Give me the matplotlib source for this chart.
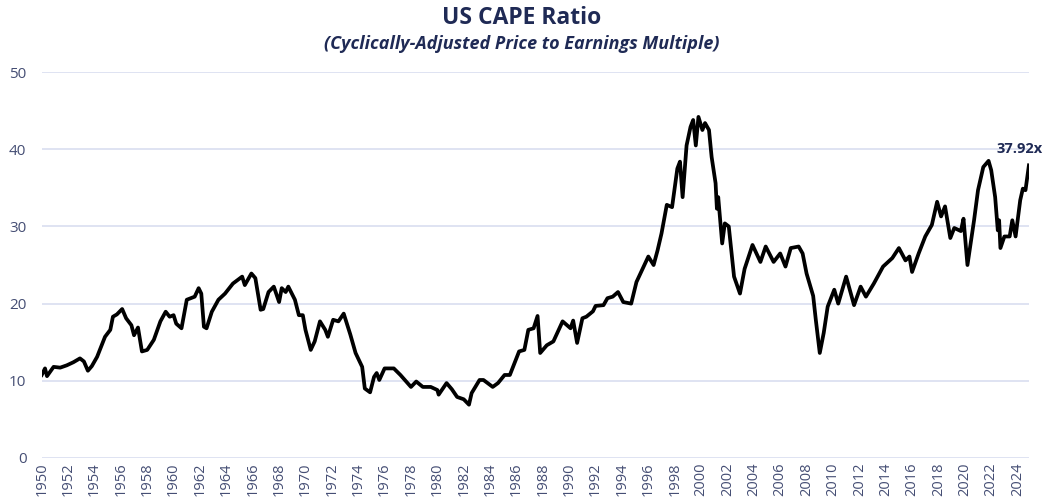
import matplotlib
matplotlib.use('Agg')
import matplotlib.pyplot as plt
import numpy as np

# CAPE readings (fractional year, ratio) taken off the reference chart
years = [
    1950.0, 1950.25, 1950.4, 1950.9, 1951.4, 1951.9, 1952.4, 1952.9, 1953.2, 1953.5,
    1953.8, 1954.2, 1954.8, 1955.2, 1955.4, 1955.7, 1956.1, 1956.4, 1956.8, 1957.0,
    1957.3, 1957.6, 1958.0, 1958.5, 1959.0, 1959.4, 1959.7, 1960.0, 1960.2, 1960.6,
    1961.0, 1961.6, 1961.9, 1962.1, 1962.3, 1962.5, 1962.9, 1963.4, 1963.9, 1964.5,
    1965.2, 1965.4, 1965.9, 1966.2, 1966.6, 1966.8, 1967.2, 1967.6, 1968.0, 1968.2,
    1968.5, 1968.7, 1969.2, 1969.5, 1969.8, 1970.0, 1970.4, 1970.7, 1971.1, 1971.5,
    1971.7, 1972.1, 1972.5, 1972.9, 1973.4, 1973.8, 1974.3, 1974.5, 1974.9, 1975.2,
    1975.4, 1975.6, 1976.0, 1976.7, 1977.2, 1978.0, 1978.4, 1978.9, 1979.5, 1980.0,
    1980.1, 1980.7, 1981.1, 1981.5, 1982.0, 1982.4, 1982.6, 1983.2, 1983.5, 1984.2,
    1984.6, 1985.1, 1985.5, 1986.2, 1986.6, 1986.9, 1987.3, 1987.6, 1987.8, 1988.3,
    1988.8, 1989.5, 1990.1, 1990.3, 1990.6, 1991.0, 1991.3, 1991.8, 1992.0, 1992.6,
    1992.9, 1993.3, 1993.7, 1994.1, 1994.7, 1995.1, 1995.7, 1996.0, 1996.4, 1996.7,
    1997.0, 1997.4, 1997.8, 1998.2, 1998.4, 1998.6, 1998.9, 1999.2, 1999.4, 1999.6,
    1999.8, 2000.1, 2000.3, 2000.6, 2000.8, 2001.1, 2001.2, 2001.3, 2001.6, 2001.8,
    2002.1, 2002.5, 2002.95, 2003.3, 2003.9, 2004.5, 2004.9, 2005.5, 2006.0, 2006.4,
    2006.8, 2007.4, 2007.7, 2008.0, 2008.5, 2008.7, 2009.0, 2009.3, 2009.6, 2010.1,
    2010.4, 2011.0, 2011.6, 2012.1, 2012.5, 2013.1, 2013.8, 2014.5, 2015.0, 2015.5,
    2015.8, 2016.0, 2016.5, 2017.0, 2017.5, 2017.9, 2018.2, 2018.5, 2018.9, 2019.2,
    2019.7, 2019.9, 2020.2, 2020.7, 2021.0, 2021.4, 2021.8, 2022.0, 2022.3, 2022.5,
    2022.6, 2022.7, 2023.0, 2023.4, 2023.6, 2023.85, 2024.2, 2024.4, 2024.6, 2024.86,
]
cape = [
    10.75, 11.6, 10.6, 11.8, 11.7, 12.0, 12.4, 12.9, 12.5, 11.3,
    11.9, 13.1, 15.7, 16.6, 18.3, 18.6, 19.3, 18.1, 17.2, 15.9,
    16.9, 13.8, 14.0, 15.3, 17.7, 18.95, 18.3, 18.5, 17.4, 16.8,
    20.5, 20.9, 22.0, 21.3, 17.0, 16.8, 18.95, 20.5, 21.3, 22.6,
    23.5, 22.4, 23.9, 23.3, 19.2, 19.3, 21.5, 22.2, 20.2, 22.0,
    21.5, 22.2, 20.5, 18.5, 18.5, 16.6, 14.0, 15.1, 17.7, 16.6,
    15.7, 17.9, 17.7, 18.7, 16.0, 13.6, 11.8, 9.0, 8.5, 10.5,
    11.0, 10.1, 11.6, 11.6, 10.75, 9.2, 9.9, 9.2, 9.2, 8.8,
    8.2, 9.7, 8.9, 7.9, 7.6, 6.9, 8.4, 10.1, 10.1, 9.2,
    9.7, 10.75, 10.75, 13.8, 14.0, 16.6, 16.8, 18.4, 13.6, 14.6,
    15.1, 17.7, 16.8, 17.8, 14.9, 18.1, 18.3, 19.0, 19.7, 19.8,
    20.7, 20.9, 21.5, 20.2, 20.0, 22.8, 25.0, 26.1, 25.0, 26.9,
    29.1, 32.8, 32.5, 37.5, 38.4, 33.8, 40.5, 42.9, 43.8, 40.5,
    44.2, 42.5, 43.4, 42.5, 39.0, 35.6, 32.3, 33.8, 27.8, 30.4,
    30.0, 23.5, 21.3, 24.5, 27.6, 25.4, 27.4, 25.4, 26.5, 24.8,
    27.2, 27.4, 26.5, 23.9, 21.0, 17.9, 13.6, 16.2, 19.6, 21.8,
    20.0, 23.5, 19.8, 22.2, 20.9, 22.6, 24.8, 25.9, 27.2, 25.6,
    26.1, 24.1, 26.5, 28.7, 30.2, 33.2, 31.3, 32.6, 28.5, 29.8,
    29.4, 31.0, 25.0, 30.8, 34.7, 37.7, 38.5, 37.3, 33.8, 29.5,
    30.8, 27.2, 28.7, 28.7, 30.8, 28.7, 33.4, 34.9, 34.7, 37.92,
]
tick_years = list(range(1950, 2025, 2))
y_ticks = [0, 10, 20, 30, 40, 50]

NAVY = '#1F2A55'
TICK = '#454E74'
GRID = '#D9DEF0'

plt.rcParams['font.family'] = ['Open Sans', 'DejaVu Sans']

fig = plt.figure(figsize=(10.43, 5.01), dpi=100)
ax = fig.add_axes([0.040, 0.086, 0.947, 0.770])

ax.plot(years, cape, color='black', lw=2.7, solid_joinstyle='round')

ax.set_xlim(1950, 2024.9)
ax.set_ylim(0, 50)
ax.set_yticks(y_ticks)
ax.set_xticks(tick_years)
ax.set_xticklabels([str(y) for y in tick_years], rotation=90)
ax.grid(axis='y', color=GRID, lw=1.2)
ax.set_axisbelow(True)
for s in ax.spines.values():
    s.set_visible(False)
ax.tick_params(axis='both', length=0, colors=TICK)
ax.tick_params(axis='y', pad=11, labelsize=11)
ax.tick_params(axis='x', pad=3, labelsize=10.5)

ax.annotate(f'{cape[-1]:.2f}x', (years[-1], cape[-1]), textcoords='offset points',
            xytext=(10, 7), ha='right', va='bottom', color=NAVY,
            fontsize=10.5, fontweight='bold', annotation_clip=False)

fig.text(0.5, 0.965, 'US CAPE Ratio', ha='center', va='center',
         fontsize=16.5, fontweight='bold', color=NAVY)
fig.text(0.5, 0.913, '(Cyclically-Adjusted Price to Earnings Multiple)', ha='center',
         va='center', fontsize=13, fontweight='bold', style='italic', color=NAVY)

fig.savefig('out.png', dpi=100)
